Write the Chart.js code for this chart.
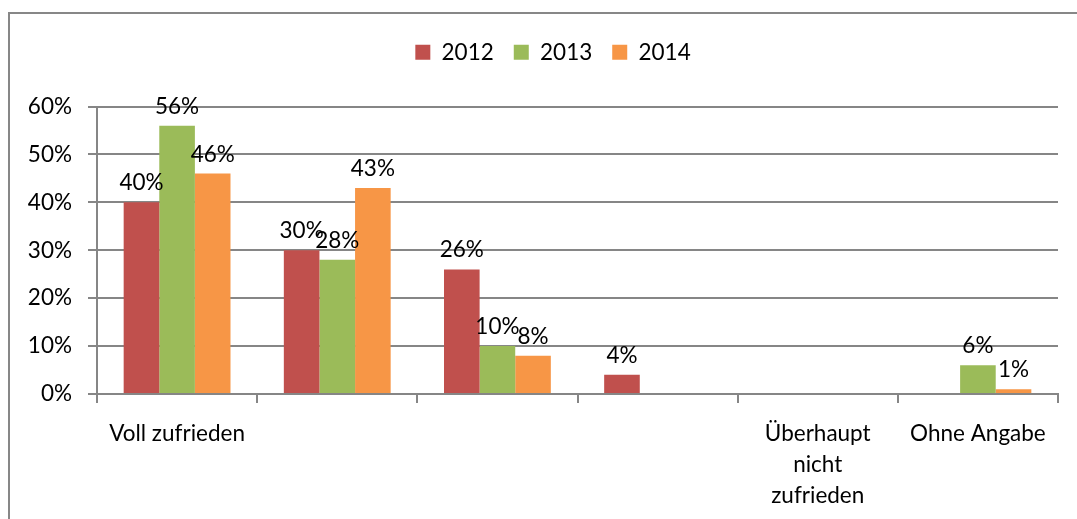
<!DOCTYPE html>
<html>
<head>
<meta charset="utf-8">
<script src="https://cdn.jsdelivr.net/npm/chart.js@4"></script>
<style>
    body { margin: 0; background: #fff; overflow: hidden; }
    .frame { position: absolute; left: 8px; top: 12px; width: 1200px; height: 700px; border: 2px solid #878787; }
    .chart-box { position: absolute; left: 0; top: 0; width: 1077px; height: 519px; }
</style>
</head>
<body>
<div class="frame"></div>
<div class="chart-box"><canvas id="zufriedenheitChart"></canvas></div>
<script>
const categories = ['Voll zufrieden', '', '', '', ['Überhaupt', 'nicht', 'zufrieden'], 'Ohne Angabe'];
const years = ['2012', '2013', '2014'];
const values2012 = [40, 30, 26, 4, null, null];
const values2013 = [56, 28, 10, null, null, 6];
const values2014 = [46, 43, 8, null, null, 1];
const yTicks = [0, 10, 20, 30, 40, 50, 60];
const colors = ['#C0504D', '#9BBB59', '#F79646'];

const FONT = 'Lato, "Open Sans", sans-serif';
const SIZE = 22.5;

// more room under the legend and legend a bit right of centre, like the excel chart
const legendSpace = {
    id: 'legendSpace',
    beforeLayout(chart) {
        const legend = chart.legend;
        if (!legend || legend._patched) return;
        const fit = legend.fit;
        const draw = legend.draw;
        legend.fit = function () {
            fit.call(this);
            this.height += 33;
        };
        legend.draw = function () {
            this.ctx.save();
            this.ctx.translate(24, 0);
            draw.call(this);
            this.ctx.restore();
        };
        legend._patched = true;
    }
};

const valueLabels = {
    id: 'valueLabels',
    afterDatasetsDraw(chart) {
        const ctx = chart.ctx;
        ctx.save();
        ctx.font = `${SIZE}px ${FONT}`;
        ctx.fillStyle = '#000';
        ctx.textAlign = 'center';
        ctx.textBaseline = 'alphabetic';
        chart.data.datasets.forEach((ds, i) => {
            chart.getDatasetMeta(i).data.forEach((bar, j) => {
                const v = ds.data[j];
                if (v === null) return;
                ctx.fillText(v + '%', bar.x, bar.y - 12);
            });
        });
        ctx.restore();
    }
};

const ctx = document.getElementById('zufriedenheitChart').getContext('2d');
new Chart(ctx, {
    type: 'bar',
    data: {
        labels: categories,
        datasets: [values2012, values2013, values2014].map((d, i) => ({
            label: years[i],
            data: d,
            backgroundColor: colors[i],
            barPercentage: 1,
            categoryPercentage: 0.667
        }))
    },
    options: {
        responsive: true,
        maintainAspectRatio: false,
        animation: false,
        devicePixelRatio: 1,
        layout: { padding: { left: 0, right: 19, top: 21, bottom: 0 } },
        plugins: {
            tooltip: { enabled: false },
            legend: {
                position: 'top',
                labels: {
                    font: { family: FONT, size: SIZE },
                    color: '#000',
                    boxWidth: 15,
                    boxHeight: 15,
                    padding: 20
                }
            }
        },
        scales: {
            x: {
                afterFit: s => { s.height = 125; },
                grid: { drawOnChartArea: false, color: '#868686', lineWidth: 2, tickLength: 9, offset: true },
                border: { color: '#868686', width: 2 },
                ticks: {
                    font: { family: FONT, size: SIZE, lineHeight: 1.38 },
                    color: '#000',
                    maxRotation: 0,
                    autoSkip: false,
                    padding: 15
                }
            },
            y: {
                min: 0,
                max: 60,
                afterFit: s => { s.width = 97; },
                afterBuildTicks: s => { s.ticks = yTicks.map(v => ({ value: v })); },
                grid: { color: '#868686', lineWidth: 2, tickLength: 9 },
                border: { color: '#868686', width: 2 },
                ticks: {
                    font: { family: FONT, size: SIZE },
                    color: '#000',
                    padding: 16,
                    callback: v => v + '%'
                }
            }
        }
    },
    plugins: [legendSpace, valueLabels]
});
</script>
</body>
</html>
